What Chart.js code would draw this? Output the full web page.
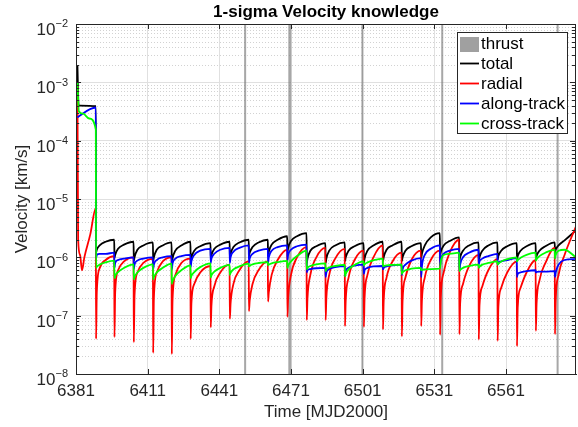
<!DOCTYPE html>
<html>
<head>
    <title>1-sigma Velocity knowledge</title>
    <script src="https://cdn.jsdelivr.net/npm/chart.js@4.4.3/dist/chart.umd.min.js"></script>
    <style>
        body { margin: 0; background: #fff; }
        #wrap { width: 578px; height: 427px; }
    </style>
</head>
<body>
    <div id="wrap"><canvas id="velchart" width="578" height="427"></canvas></div>
    <script>
        // time axis [MJD2000]
        const xMin = 6381
        const xMax = 6590.3
        const xTicks = [6381, 6411, 6441, 6471, 6501, 6531, 6561]
        const yExponents = [-8, -7, -6, -5, -4, -3, -2]

        // thrust arcs (days)
        const thrustDays = [6451.8, 6470.3, 6470.7, 6500.9, 6534.3, 6582.6]

        // measurement update days: each series drops here
        const dropDays = [6389.4, 6397.1, 6405.2, 6413.3, 6421.1, 6429.0, 6437.4, 6445.4, 6453.4, 6461.4,
            6469.5, 6477.6, 6485.5, 6493.6, 6501.5, 6509.5, 6517.4, 6525.5, 6533.4, 6541.5,
            6549.6, 6557.5, 6565.6, 6573.5, 6581.5]
        // sample days after each drop; last value of a cycle sits just before the next drop
        const cycleOffsets = [0, 0.3, 1.5, 4]

        // before first update: [day, km/s]
        const totalStart = [[6381.6, 1.9e-3], [6382.1, 4.0e-4], [6389.3, 3.9e-4]]
        const radialStart = [[6381.6, 9e-4], [6381.9, 2e-6], [6382.7, 1.1e-6], [6383.5, 6e-7], [6384.5, 1.0e-6], [6387.0, 2.5e-6], [6389.3, 7e-6]]
        const alongStart = [[6381.6, 2.5e-4], [6382.1, 2.6e-4], [6389.3, 3.7e-4]]
        const crossStart = [[6381.6, 1.0e-3], [6382.2, 3.2e-4], [6384.0, 2.9e-4], [6386.5, 2.4e-4], [6389.3, 1.55e-4]]

        // per cycle: [after drop, +0.3d, +1.5d, +4d, before next drop]
        const totalCycles = [
            [1.2e-6, 1.35e-6, 1.6e-6, 1.85e-6, 2.0e-6],
            [9.7e-7, 1.1e-6, 1.4e-6, 1.65e-6, 1.85e-6],
            [8.5e-7, 1.0e-6, 1.35e-6, 1.6e-6, 1.8e-6],
            [8.5e-7, 1.0e-6, 1.35e-6, 1.6e-6, 1.8e-6],
            [7.5e-7, 9.5e-7, 1.3e-6, 1.6e-6, 1.85e-6],
            [8.5e-7, 1.0e-6, 1.3e-6, 1.55e-6, 1.75e-6],
            [9.5e-7, 1.1e-6, 1.4e-6, 1.65e-6, 1.85e-6],
            [9.7e-7, 1.15e-6, 1.5e-6, 1.8e-6, 2.0e-6],
            [1.05e-6, 1.2e-6, 1.5e-6, 1.8e-6, 2.0e-6],
            [1.05e-6, 1.25e-6, 1.65e-6, 2.0e-6, 2.3e-6],
            [1.25e-6, 1.45e-6, 1.9e-6, 2.3e-6, 2.6e-6],
            [8.0e-7, 9.5e-7, 1.3e-6, 1.55e-6, 1.75e-6],
            [7.9e-7, 9.5e-7, 1.3e-6, 1.6e-6, 1.8e-6],
            [8.5e-7, 1.0e-6, 1.3e-6, 1.55e-6, 1.75e-6],
            [7.9e-7, 9.5e-7, 1.3e-6, 1.6e-6, 1.85e-6],
            [8.5e-7, 1.0e-6, 1.35e-6, 1.6e-6, 1.85e-6],
            [8.5e-7, 1.0e-6, 1.3e-6, 1.55e-6, 1.75e-6],
            [9.7e-7, 1.15e-6, 1.6e-6, 2.2e-6, 2.6e-6],
            [1.1e-6, 1.25e-6, 1.6e-6, 1.9e-6, 2.2e-6],
            [8.5e-7, 1.0e-6, 1.3e-6, 1.6e-6, 1.8e-6],
            [8.5e-7, 1.0e-6, 1.3e-6, 1.6e-6, 1.8e-6],
            [9.0e-7, 1.05e-6, 1.3e-6, 1.55e-6, 1.75e-6],
            [9.0e-7, 1.05e-6, 1.3e-6, 1.55e-6, 1.75e-6],
            [9.0e-7, 1.05e-6, 1.3e-6, 1.55e-6, 1.8e-6],
            [1.2e-6, 1.35e-6, 1.6e-6, 1.95e-6, 2.9e-6]
        ]
        const radialCycles = [
            [4.0e-8, 2.5e-7, 6.5e-7, 9.0e-7, 1.05e-6],
            [4.3e-8, 2.5e-7, 6.0e-7, 8.5e-7, 1.0e-6],
            [3.5e-8, 2.2e-7, 5.5e-7, 8.0e-7, 9.4e-7],
            [2.3e-8, 2.0e-7, 5.5e-7, 8.5e-7, 1.0e-6],
            [2.2e-8, 1.8e-7, 5.0e-7, 8.0e-7, 9.5e-7],
            [4.0e-8, 1.6e-7, 3.5e-7, 5.5e-7, 7.1e-7],
            [6.3e-8, 1.5e-7, 3.2e-7, 5.5e-7, 7.5e-7],
            [8.8e-8, 1.6e-7, 3.5e-7, 6.0e-7, 8.5e-7],
            [1.2e-7, 1.8e-7, 3.5e-7, 6.0e-7, 8.5e-7],
            [1.75e-7, 2.5e-7, 5.0e-7, 9.0e-7, 1.35e-6],
            [9.5e-8, 2.0e-7, 5.0e-7, 1.0e-6, 1.5e-6],
            [8.4e-8, 2.0e-7, 5.0e-7, 1.0e-6, 1.45e-6],
            [8.4e-8, 2.0e-7, 5.0e-7, 9.5e-7, 1.4e-6],
            [6.6e-8, 1.8e-7, 4.5e-7, 9.0e-7, 1.3e-6],
            [6.4e-8, 2.0e-7, 5.0e-7, 1.0e-6, 1.6e-6],
            [5.8e-8, 1.8e-7, 4.5e-7, 8.5e-7, 1.2e-6],
            [4.4e-8, 1.8e-7, 4.5e-7, 9.0e-7, 1.3e-6],
            [6.6e-8, 1.8e-7, 4.5e-7, 9.0e-7, 1.3e-6],
            [4.7e-8, 2.0e-7, 5.5e-7, 1.2e-6, 2.0e-6],
            [4.8e-8, 1.6e-7, 3.5e-7, 7.0e-7, 1.1e-6],
            [3.9e-8, 1.5e-7, 3.2e-7, 6.0e-7, 9.4e-7],
            [3.7e-8, 1.4e-7, 3.0e-7, 5.5e-7, 8.5e-7],
            [3.0e-8, 1.4e-7, 3.0e-7, 5.5e-7, 9.0e-7],
            [5.5e-8, 1.6e-7, 4.0e-7, 8.0e-7, 1.45e-6],
            [4.8e-8, 1.8e-7, 5.0e-7, 1.1e-6, 3.4e-6]
        ]
        const alongCycles = [
            [9.7e-7, 1.1e-6, 1.15e-6, 1.15e-6, 1.2e-6],
            [6.6e-7, 8.0e-7, 9.0e-7, 9.5e-7, 1.0e-6],
            [6.2e-7, 7.5e-7, 8.8e-7, 9.5e-7, 1.0e-6],
            [6.2e-7, 7.5e-7, 9.0e-7, 1.0e-6, 1.05e-6],
            [6.2e-7, 7.8e-7, 9.5e-7, 1.05e-6, 1.1e-6],
            [6.8e-7, 8.5e-7, 1.1e-6, 1.3e-6, 1.4e-6],
            [8.0e-7, 9.5e-7, 1.15e-6, 1.35e-6, 1.45e-6],
            [8.0e-7, 1.0e-6, 1.25e-6, 1.45e-6, 1.6e-6],
            [8.0e-7, 9.5e-7, 1.15e-6, 1.3e-6, 1.4e-6],
            [8.0e-7, 1.0e-6, 1.3e-6, 1.5e-6, 1.6e-6],
            [9.0e-7, 1.1e-6, 1.35e-6, 1.55e-6, 1.65e-6],
            [5.5e-7, 6.0e-7, 6.3e-7, 6.5e-7, 6.6e-7],
            [4.6e-7, 5.5e-7, 6.3e-7, 6.8e-7, 7.1e-7],
            [4.8e-7, 5.8e-7, 6.6e-7, 7.2e-7, 7.5e-7],
            [5.2e-7, 6.0e-7, 6.6e-7, 7.0e-7, 7.1e-7],
            [6.2e-7, 6.6e-7, 7.0e-7, 7.3e-7, 7.5e-7],
            [5.0e-7, 6.2e-7, 7.5e-7, 8.8e-7, 9.7e-7],
            [4.6e-7, 7.0e-7, 1.1e-6, 1.4e-6, 1.6e-6],
            [7.1e-7, 9.0e-7, 1.15e-6, 1.3e-6, 1.4e-6],
            [5.8e-7, 7.5e-7, 1.0e-6, 1.2e-6, 1.35e-6],
            [7.5e-7, 8.5e-7, 9.5e-7, 1.05e-6, 1.15e-6],
            [7.5e-7, 8.0e-7, 8.5e-7, 9.0e-7, 9.7e-7],
            [4.6e-7, 5.2e-7, 5.5e-7, 5.8e-7, 6.0e-7],
            [5.5e-7, 5.6e-7, 5.7e-7, 5.7e-7, 5.8e-7],
            [4.6e-7, 5.5e-7, 7.5e-7, 9.0e-7, 9.4e-7]
        ]
        const crossCycles = [
            [6.6e-7, 6.9e-7, 7.5e-7, 8.2e-7, 8.8e-7],
            [4.4e-7, 4.8e-7, 5.6e-7, 6.6e-7, 7.6e-7],
            [4.2e-7, 4.6e-7, 5.5e-7, 6.6e-7, 7.6e-7],
            [4.2e-7, 4.6e-7, 5.5e-7, 6.6e-7, 7.8e-7],
            [3.5e-7, 3.9e-7, 4.8e-7, 6.0e-7, 7.3e-7],
            [4.4e-7, 4.8e-7, 5.6e-7, 6.8e-7, 7.9e-7],
            [4.5e-7, 4.9e-7, 5.7e-7, 6.6e-7, 7.4e-7],
            [5.0e-7, 5.4e-7, 6.2e-7, 7.0e-7, 7.8e-7],
            [7.0e-7, 7.2e-7, 7.6e-7, 8.0e-7, 8.3e-7],
            [7.3e-7, 7.5e-7, 7.9e-7, 8.3e-7, 8.7e-7],
            [6.6e-7, 7.2e-7, 8.5e-7, 1.05e-6, 1.3e-6],
            [6.2e-7, 6.6e-7, 7.1e-7, 7.6e-7, 7.9e-7],
            [5.8e-7, 6.2e-7, 6.7e-7, 7.1e-7, 7.4e-7],
            [4.7e-7, 5.2e-7, 6.2e-7, 7.4e-7, 8.5e-7],
            [7.3e-7, 7.6e-7, 8.2e-7, 8.9e-7, 9.5e-7],
            [7.0e-7, 7.1e-7, 7.3e-7, 7.4e-7, 7.5e-7],
            [5.2e-7, 5.5e-7, 6.0e-7, 6.4e-7, 6.6e-7],
            [6.0e-7, 6.1e-7, 6.2e-7, 6.3e-7, 6.4e-7],
            [6.6e-7, 8.5e-7, 1.1e-6, 1.15e-6, 1.2e-6],
            [5.8e-7, 6.1e-7, 6.6e-7, 7.1e-7, 7.5e-7],
            [6.6e-7, 6.9e-7, 7.5e-7, 8.0e-7, 8.5e-7],
            [7.5e-7, 7.8e-7, 8.5e-7, 9.3e-7, 1.0e-6],
            [8.5e-7, 8.9e-7, 9.8e-7, 1.1e-6, 1.2e-6],
            [8.8e-7, 9.3e-7, 1.05e-6, 1.2e-6, 1.35e-6],
            [9.5e-7, 1.1e-6, 1.3e-6, 1.35e-6, 1.0e-6]
        ]

        const FONT = '"Liberation Sans", Arial, Helvetica, sans-serif'
        const AXIS = '#262626'
        const GRID = '#e0e0e0'
        const MINOR = '#d2d2d2'

        function buildSeries(start, cycles) {
            const pts = start.map(([x, y]) => ({ x, y }))
            cycles.forEach((vals, k) => {
                const d = dropDays[k]
                const next = k + 1 < dropDays.length ? dropDays[k + 1] - 0.1 : xMax
                cycleOffsets.forEach((o, j) => pts.push({ x: d + o, y: vals[j] }))
                pts.push({ x: next, y: vals[4] })
            })
            return pts
        }

        const thrustPts = []
        thrustDays.forEach(t => {
            thrustPts.push({ x: t, y: 1e-8 }, { x: t, y: 1e-2 }, { x: t, y: null })
        })

        function lineSet(label, color, data, order) {
            return {
                label, data, order,
                borderColor: color, backgroundColor: color,
                borderWidth: 1.8, pointRadius: 0,
                cubicInterpolationMode: 'monotone'
            }
        }

        // matlab-ish axes: minor grid, inner ticks, box, y labels, title, legend
        const matlabAxes = {
            id: 'matlabAxes',
            beforeDatasetsDraw(chart) {
                const { ctx, chartArea: a, scales: { y } } = chart
                ctx.save()
                ctx.strokeStyle = MINOR
                ctx.lineWidth = 1
                ctx.setLineDash([1, 2])
                for (let e = -8; e < -2; e++) {
                    for (let m = 2; m < 10; m++) {
                        const py = Math.round(y.getPixelForValue(m * Math.pow(10, e))) + 0.5
                        ctx.beginPath()
                        ctx.moveTo(a.left, py)
                        ctx.lineTo(a.right, py)
                        ctx.stroke()
                    }
                }
                ctx.restore()
            },
            afterDraw(chart) {
                const { ctx, chartArea: a, scales: { x, y } } = chart
                ctx.save()
                ctx.strokeStyle = AXIS
                ctx.lineWidth = 1
                // box
                ctx.strokeRect(Math.round(a.left) + 0.5, Math.round(a.top) + 0.5,
                    Math.round(a.right - a.left) - 1, Math.round(a.bottom - a.top))
                // inner ticks
                ctx.beginPath()
                for (let e = -8; e <= -2; e++) {
                    for (let m = 1; m < 10; m++) {
                        if (e === -2 && m > 1) break
                        const py = Math.round(y.getPixelForValue(m * Math.pow(10, e))) + 0.5
                        const len = m === 1 ? 5 : 3
                        ctx.moveTo(a.left, py); ctx.lineTo(a.left + len, py)
                        ctx.moveTo(a.right - 1, py); ctx.lineTo(a.right - 1 - len, py)
                    }
                }
                xTicks.forEach(v => {
                    const px = Math.round(x.getPixelForValue(v)) + 0.5
                    ctx.moveTo(px, a.bottom); ctx.lineTo(px, a.bottom - 5)
                    ctx.moveTo(px, a.top); ctx.lineTo(px, a.top + 5)
                })
                ctx.stroke()

                // y tick labels 10^n
                ctx.fillStyle = AXIS
                ctx.textBaseline = 'alphabetic'
                yExponents.forEach(e => {
                    const py = y.getPixelForValue(Math.pow(10, e))
                    const sup = '\u2212' + Math.abs(e)
                    ctx.font = '11px ' + FONT
                    const ew = ctx.measureText(sup).width
                    const rx = a.left - 8
                    ctx.textAlign = 'left'
                    ctx.fillText(sup, rx - ew, py + 3.3)
                    ctx.font = '17px ' + FONT
                    ctx.textAlign = 'right'
                    ctx.fillText('10', rx - ew, py + 11)
                })

                // title
                ctx.fillStyle = '#000'
                ctx.font = 'bold 17px ' + FONT
                ctx.textAlign = 'center'
                ctx.textBaseline = 'middle'
                ctx.fillText('1-sigma Velocity knowledge', (a.left + a.right) / 2, 12)

                // legend
                const lx = 457.5, ly = 32.5, lw = 110, lh = 101
                ctx.fillStyle = '#fff'
                ctx.fillRect(lx, ly, lw, lh)
                ctx.strokeStyle = AXIS
                ctx.strokeRect(lx, ly, lw, lh)
                const entries = [chart.data.datasets[4], chart.data.datasets[0], chart.data.datasets[1],
                    chart.data.datasets[2], chart.data.datasets[3]]
                ctx.font = '17px ' + FONT
                ctx.textAlign = 'left'
                entries.forEach((ds, i) => {
                    const cy = 43 + i * 20
                    if (ds.label === 'thrust') {
                        ctx.fillStyle = '#a0a0a0'
                        ctx.fillRect(460, cy - 6, 19, 15)
                    } else {
                        ctx.strokeStyle = ds.borderColor
                        ctx.lineWidth = 1.8
                        ctx.beginPath()
                        ctx.moveTo(460, cy + 0.5)
                        ctx.lineTo(479, cy + 0.5)
                        ctx.stroke()
                    }
                    ctx.fillStyle = '#000'
                    ctx.fillText(ds.label, 481, cy + 1)
                })
                ctx.restore()
            }
        }

        const velChart = new Chart(document.getElementById('velchart'), {
            type: 'line',
            data: {
                datasets: [
                    lineSet('total', '#000000', buildSeries(totalStart, totalCycles), 4),
                    lineSet('radial', '#ff0000', buildSeries(radialStart, radialCycles), 3),
                    lineSet('along-track', '#0000ff', buildSeries(alongStart, alongCycles), 2),
                    lineSet('cross-track', '#00ff00', buildSeries(crossStart, crossCycles), 1),
                    {
                        label: 'thrust', data: thrustPts, order: 5,
                        borderColor: 'rgba(120,120,120,0.65)', backgroundColor: '#a0a0a0',
                        borderWidth: 2, pointRadius: 0, spanGaps: false
                    }
                ]
            },
            options: {
                responsive: false,
                animation: false,
                layout: { padding: { top: 24, right: 2, left: 0, bottom: 0 } },
                plugins: { legend: { display: false }, tooltip: { enabled: false }, title: { display: false } },
                scales: {
                    x: {
                        type: 'linear',
                        min: xMin,
                        max: xMax,
                        afterBuildTicks: s => { s.ticks = xTicks.map(v => ({ value: v })) },
                        afterFit: s => { s.height = 53 },
                        grid: { color: GRID, drawTicks: false },
                        border: { color: AXIS },
                        ticks: {
                            autoSkip: false, maxRotation: 0, padding: 7, color: AXIS,
                            font: { family: FONT, size: 17 },
                            callback: v => String(v)
                        },
                        title: {
                            display: true, text: 'Time [MJD2000]', color: AXIS,
                            font: { family: FONT, size: 17 }, padding: { top: 0, bottom: 4 }
                        }
                    },
                    y: {
                        type: 'logarithmic',
                        min: 1e-8,
                        max: 1e-2,
                        afterBuildTicks: s => { s.ticks = yExponents.map(e => ({ value: Math.pow(10, e) })) },
                        afterFit: s => { s.width = 76 },
                        grid: { color: GRID, drawTicks: false },
                        border: { color: AXIS },
                        ticks: { display: false },
                        title: {
                            display: true, text: 'Velocity [km/s]', color: AXIS,
                            font: { family: FONT, size: 17 }, padding: { top: 12, bottom: 0 }
                        }
                    }
                }
            },
            plugins: [matlabAxes]
        })
    </script>
</body>
</html>
